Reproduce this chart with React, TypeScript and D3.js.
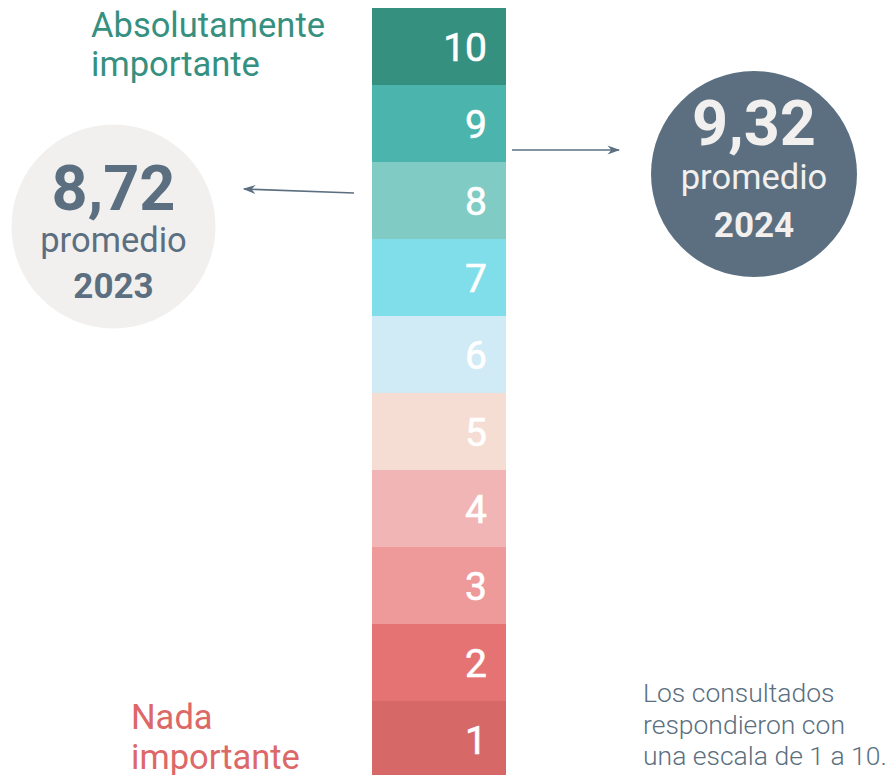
import React, { useRef, useEffect } from "react";
import * as d3 from "d3";

// scale levels, top to bottom
const levels = [10, 9, 8, 7, 6, 5, 4, 3, 2, 1];
const levelColors = [
  "#36907f", "#4bb5ad", "#80cbc4", "#80deea", "#d0ebf5",
  "#f5ddd3", "#f2b5b5", "#ef9a9a", "#e57373", "#d66868",
];

// averages per year
const years = ["2023", "2024"];
const averages = [8.72, 9.32];

const topLabel = ["Absolutamente", "importante"];
const bottomLabel = ["Nada", "importante"];
const note = ["Los consultados", "respondieron con", "una escala de 1 a 10."];

const App = () => {
  const svgRef = useRef<SVGSVGElement>(null);

  useEffect(() => {
    const width = 887;
    const height = 775;
    const font = "Roboto, 'Noto Sans', sans-serif";
    const slate = "#5b6f80";

    const svg = d3.select(svgRef.current);
    svg.selectAll("*").remove();
    svg.attr("width", width).attr("height", height);

    // the scale bar
    const y = d3.scaleBand<number>().domain(levels).range([8, 778]).padding(0);
    const color = d3.scaleOrdinal<number, string>().domain(levels).range(levelColors);
    const barX = 372;
    const barW = 134;

    const seg = svg.append("g").selectAll("g").data(levels).join("g");
    seg
      .append("rect")
      .attr("x", barX)
      .attr("y", (d) => y(d)!)
      .attr("width", barW)
      .attr("height", y.bandwidth())
      .attr("fill", (d) => color(d));
    seg
      .append("text")
      .attr("x", 487)
      .attr("y", (d) => y(d)! + y.bandwidth() / 2 + 14)
      .attr("text-anchor", "end")
      .attr("font-family", font)
      .attr("font-size", 39)
      .attr("fill", "#fff")
      .attr("stroke", "#fff")
      .attr("stroke-width", 0.6)
      .text((d) => d);

    // arrows
    const defs = svg.append("defs");
    defs
      .append("marker")
      .attr("id", "head")
      .attr("viewBox", "0 0 10 10")
      .attr("refX", 9)
      .attr("refY", 5)
      .attr("markerWidth", 8)
      .attr("markerHeight", 8)
      .attr("orient", "auto-start-reverse")
      .append("path")
      .attr("d", "M0,1.5 L10,5 L0,8.5 L3,5 Z")
      .attr("fill", slate);

    svg
      .append("line")
      .attr("x1", 354).attr("y1", 193)
      .attr("x2", 244).attr("y2", 189)
      .attr("stroke", slate)
      .attr("stroke-width", 1.6)
      .attr("marker-end", "url(#head)");
    svg
      .append("line")
      .attr("x1", 512).attr("y1", 150)
      .attr("x2", 619).attr("y2", 150)
      .attr("stroke", slate)
      .attr("stroke-width", 1.6)
      .attr("marker-end", "url(#head)");

    // average bubbles
    const bubbles = [
      { cx: 113.5, cy: 226.5, r: 102, fill: "#f2f0ef", ink: slate, base: [210, 252, 298] },
      { cx: 754, cy: 174, r: 103, fill: slate, ink: "#f2f0ef", base: [145, 189, 237] },
    ];
    const fmt = (v: number) => d3.format(".2f")(v).replace(".", ",");
    bubbles.forEach((b, i) => {
      const g = svg.append("g").attr("font-family", font).attr("text-anchor", "middle");
      g.append("circle").attr("cx", b.cx).attr("cy", b.cy).attr("r", b.r).attr("fill", b.fill);
      g.append("text")
        .attr("x", b.cx).attr("y", b.base[0])
        .attr("font-size", 63).attr("font-weight", 700).attr("fill", b.ink)
        .text(fmt(averages[i]));
      g.append("text")
        .attr("x", b.cx).attr("y", b.base[1])
        .attr("font-size", 34.5).attr("fill", b.ink)
        .text("promedio");
      g.append("text")
        .attr("x", b.cx).attr("y", b.base[2])
        .attr("font-size", 35).attr("font-weight", 700).attr("fill", b.ink)
        .text(years[i]);
    });

    // end labels
    const lines = (rows: string[], x: number, y0: number, dy: number, size: number, fill: string, weight = 400) =>
      svg
        .append("g")
        .selectAll("text")
        .data(rows)
        .join("text")
        .attr("x", x)
        .attr("y", (_, i) => y0 + i * dy)
        .attr("font-family", font)
        .attr("font-size", size)
        .attr("font-weight", weight)
        .attr("fill", fill)
        .text((d) => d);

    lines(topLabel, 91, 37, 39, 34.5, "#36907f");
    lines(bottomLabel, 131, 729, 40, 34.5, "#dd6868");
    lines(note, 643, 702, 31.5, 26.5, slate, 300);
  }, []);

  return (
    <svg
      ref={svgRef}
      style={{ position: "absolute", left: 0, top: 0, display: "block" }}
    />
  );
};

export default App;
